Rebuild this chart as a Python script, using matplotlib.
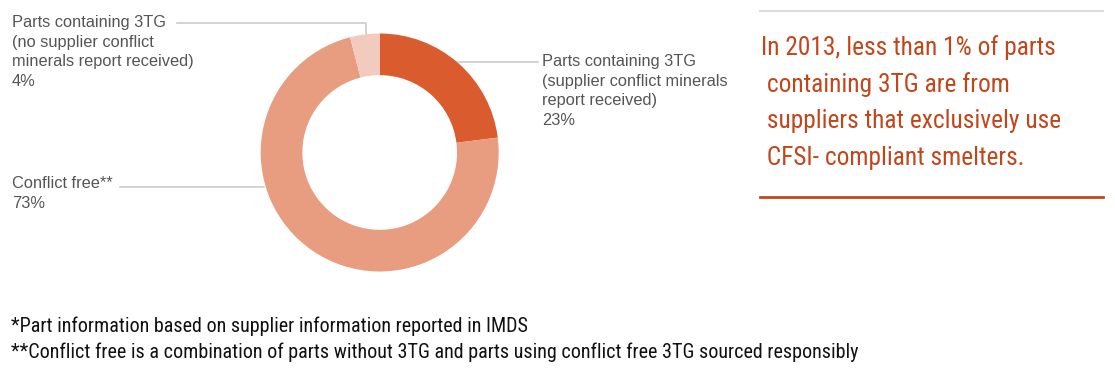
import matplotlib
matplotlib.use("Agg")
import matplotlib.pyplot as plt
from matplotlib import font_manager as fm
import numpy as np

# data
labels = ["Parts containing 3TG\n(supplier conflict minerals\nreport received)\n23%",
          "Conflict free**\n73%",
          "Parts containing 3TG\n(no supplier conflict\nminerals report received)\n4%"]
shares = [23, 73, 4]
colors = ["#D95B2E", "#E89C80", "#F3CBBE"]

callout = ["In 2013, less than 1% of parts",
           " containing 3TG are from",
           " suppliers that exclusively use",
           " CFSI- compliant smelters."]
notes = ["*Part information based on supplier information reported in IMDS",
         "**Conflict free is a combination of parts without 3TG and parts using conflict free 3TG sourced responsibly"]


def narrow_font():
    prefs = ["Liberation Sans Narrow", "Roboto Condensed", "Open Sans Condensed",
             "Noto Sans Condensed", "DejaVu Sans Condensed"]
    fonts = fm.fontManager.ttflist
    for p in prefs:
        for f in fonts:
            if f.name == p and f.style == "normal" and f.weight in (400, "normal", "regular"):
                return fm.FontProperties(fname=f.fname)
    for f in fonts:
        bad = any(s in f.name for s in ("CJK", "Mono", "Serif"))
        if (not bad and f.style == "normal" and f.weight in (400, "normal", "regular")
                and f.stretch in ("condensed", "semi-condensed")):
            return fm.FontProperties(fname=f.fname)
    return fm.FontProperties(family="Liberation Sans")


W, H = 1115, 378
fig = plt.figure(figsize=(W / 100, H / 100), dpi=100)
renderer = fig.canvas.get_renderer()


def fit_size(text, fp, target):
    t = fig.text(0, 0, text, fontproperties=fp, fontsize=10)
    w = t.get_window_extent(renderer).width
    t.remove()
    return 10 * target / w


# overlay axes in pixel coordinates for labels and rules
ov = fig.add_axes([0, 0, 1, 1])
ov.set_xlim(0, W)
ov.set_ylim(H, 0)
ov.axis("off")

# donut
cx, cy, R = 379.7, 152.5, 119
ax = fig.add_axes([(cx - R) / W, (H - cy - R) / H, 2 * R / W, 2 * R / H])
wedges, _ = ax.pie(shares, colors=colors, startangle=90, counterclock=False,
                   wedgeprops=dict(width=0.35, linewidth=0))
ax.set_xlim(-1, 1)
ax.set_ylim(-1, 1)
ax.axis("off")


def edge_point(w):
    ang = np.deg2rad((w.theta1 + w.theta2) / 2)
    return cx + R * np.cos(ang), cy - R * np.sin(ang)


lc = "#CCCCCC"
lab_fp = fm.FontProperties(family="Liberation Sans")
lab_size = fit_size("(supplier conflict minerals", lab_fp, 186)
txt = dict(fontproperties=lab_fp, fontsize=lab_size, color="#555555",
           va="top", linespacing=1.37)

# 23% slice: horizontal leader to the right
x0, y0 = edge_point(wedges[0])
ov.plot([x0, 538], [y0 - 1.5, y0 - 1.5], color=lc, lw=1.2)
ov.text(542, y0 - 9, labels[0], ha="left", **txt)

# 4% slice: up then left
x2, y2 = edge_point(wedges[2])
ov.plot([x2 + 1, x2 + 1, 177], [y2, 22.5, 22.5], color=lc, lw=1.2)
ov.text(12, 15.5, labels[2], ha="left", **txt)

# 73% slice
ov.plot([264, 120], [186.5, 186.5], color=lc, lw=1.2)
ov.text(12, 176.5, labels[1], ha="left", **txt)

# callout box
orange = "#C2461C"
nfp = narrow_font()
ov.plot([760, 1103], [11, 11], color="#DDDDDD", lw=1.5)
ov.plot([760, 1103], [197, 197], color=orange, lw=2)
c_size = fit_size(callout[0], nfp, 293)
for i, line in enumerate(callout):
    ov.text(761, 47.5 + i * 36.8, line, ha="left", va="center", fontsize=c_size,
            color=orange, fontproperties=nfp)

# footnotes
n_size = fit_size(notes[1], nfp, 845)
for i, line in enumerate(notes):
    ov.text(11, 326.5 + i * 26, line, ha="left", va="center", fontsize=n_size,
            color="#111111", fontproperties=nfp)

fig.savefig("out.png", dpi=100)
